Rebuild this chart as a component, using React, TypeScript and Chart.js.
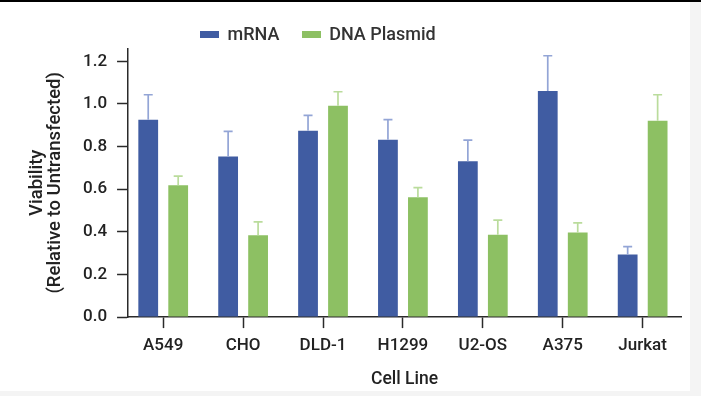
import React, { useEffect, useRef } from "react";
import { Chart, registerables } from "chart.js";

Chart.register(...registerables);

const cellLines = ["A549", "CHO", "DLD-1", "H1299", "U2-OS", "A375", "Jurkat"];
const seriesNames = ["mRNA", "DNA Plasmid"];
const mrnaValues = [0.926, 0.753, 0.874, 0.832, 0.731, 1.061, 0.294];
const mrnaErrors = [0.117, 0.118, 0.072, 0.094, 0.099, 0.165, 0.037];
const plasmidValues = [0.618, 0.384, 0.991, 0.562, 0.386, 0.397, 0.921];
const plasmidErrors = [0.043, 0.063, 0.066, 0.045, 0.069, 0.045, 0.122];
const yTickStep = 0.2;
const yAxisMax = 1.26;

const BLUE = "#405CA2";
const GREEN = "#8DC063";
const BLUE_ERR = "#93A5D6";
const GREEN_ERR = "#BADC9C";
const AXIS = "#2a2a2a";
const TEXT = "#222222";

const errorBarPlugin = {
  id: "errorBars",
  afterDatasetsDraw(chart: any) {
    const ctx = chart.ctx;
    const yScale = chart.scales.y;
    chart.data.datasets.forEach((ds: any, i: number) => {
      const meta = chart.getDatasetMeta(i);
      ctx.save();
      ctx.strokeStyle = ds.errorColor;
      ctx.lineWidth = 1.7;
      meta.data.forEach((bar: any, j: number) => {
        const v = ds.data[j].y;
        const top = yScale.getPixelForValue(v + ds.errors[j]);
        const x = bar.x;
        ctx.beginPath();
        ctx.moveTo(x, bar.y);
        ctx.lineTo(x, top);
        ctx.moveTo(x - 4.5, top);
        ctx.lineTo(x + 4.5, top);
        ctx.stroke();
      });
      ctx.restore();
    });
  },
};

export default function App() {
  const canvasRef = useRef<HTMLCanvasElement>(null);

  useEffect(() => {
    const toPoints = (vals: number[]) => vals.map((v, i) => ({ x: i, y: v }));
    const chart = new Chart(canvasRef.current as HTMLCanvasElement, {
      type: "bar",
      data: {
        datasets: [
          {
            label: seriesNames[0],
            data: toPoints(mrnaValues),
            backgroundColor: BLUE,
            errors: mrnaErrors,
            errorColor: BLUE_ERR,
            categoryPercentage: 0.75,
            barPercentage: 0.66,
          } as any,
          {
            label: seriesNames[1],
            data: toPoints(plasmidValues),
            backgroundColor: GREEN,
            errors: plasmidErrors,
            errorColor: GREEN_ERR,
            categoryPercentage: 0.75,
            barPercentage: 0.66,
          } as any,
        ],
      },
      options: {
        animation: false,
        responsive: false,
        devicePixelRatio: 1,
        layout: { padding: { left: 24.5, right: 9, top: 46.5, bottom: 0 } },
        plugins: {
          legend: { display: false },
          tooltip: { enabled: false },
        },
        scales: {
          x: {
            type: "linear",
            min: -0.44,
            max: 6.48,
            offset: false,
            grid: {
              display: true,
              offset: false,
              drawOnChartArea: false,
              drawTicks: true,
              tickLength: 11,
              color: AXIS,
              tickWidth: 1.5,
            },
            border: { display: true, color: AXIS, width: 1.5 },
            ticks: {
              stepSize: 1,
              includeBounds: false,
              autoSkip: false,
              maxRotation: 0,
              padding: 7,
              color: TEXT,
              font: { family: "Roboto", size: 17, weight: "500" },
              callback: (v: any) => cellLines[Math.round(Number(v))] ?? "",
            },
            title: {
              display: true,
              text: "Cell Line",
              color: TEXT,
              font: { family: "Roboto", size: 17.5, weight: "500", lineHeight: 1.2 },
              padding: { top: 6.7, bottom: 0.8 },
            },
          },
          y: {
            type: "linear",
            min: 0,
            max: yAxisMax,
            grid: {
              display: true,
              drawOnChartArea: false,
              drawTicks: true,
              tickLength: 11,
              color: AXIS,
              tickWidth: 1.5,
            },
            border: { display: true, color: AXIS, width: 1.5 },
            ticks: {
              stepSize: yTickStep,
              includeBounds: false,
              padding: 10,
              color: TEXT,
              font: { family: "Roboto", size: 17, weight: "500" },
              callback: (v: any) => Number(v).toFixed(1),
            },
            title: {
              display: true,
              text: ["Viability", "(Relative to Untransfected)"],
              color: TEXT,
              font: { family: "Roboto", size: 18.5, weight: "500", lineHeight: 1.0 },
              padding: { top: 3.5, bottom: 8 },
            },
          },
        },
      } as any,
      plugins: [errorBarPlugin],
    });
    return () => chart.destroy();
  }, []);

  const legendText: React.CSSProperties = {
    fontFamily: "Roboto",
    fontSize: 18,
    fontWeight: 500,
    color: "#333333",
    lineHeight: "20px",
    whiteSpace: "nowrap",
  };
  const legendItem = (left: number, color: string, label: string) => (
    <div
      style={{
        position: "absolute",
        left,
        top: 22,
        height: 20,
        display: "flex",
        alignItems: "center",
      }}
    >
      <span style={{ display: "inline-block", width: 19, height: 7, background: color, marginRight: 8.5 }} />
      <span style={legendText}>{label}</span>
    </div>
  );

  return (
    <div
      style={{
        position: "absolute",
        left: 0,
        top: 0,
        width: 701,
        height: 396,
        background: "#f4f4f4",
        overflow: "hidden",
      }}
    >
      <div style={{ position: "absolute", left: 0, top: 0, width: 701, height: 2, background: "#000" }} />
      <div style={{ position: "absolute", left: 0, top: 2, width: 690, height: 389, background: "#fff" }}>
        <canvas
          ref={canvasRef}
          width={690}
          height={389}
          style={{ display: "block", width: 690, height: 389 }}
        />
        {legendItem(200, BLUE, seriesNames[0])}
        {legendItem(301.7, GREEN, seriesNames[1])}
      </div>
    </div>
  );
}
